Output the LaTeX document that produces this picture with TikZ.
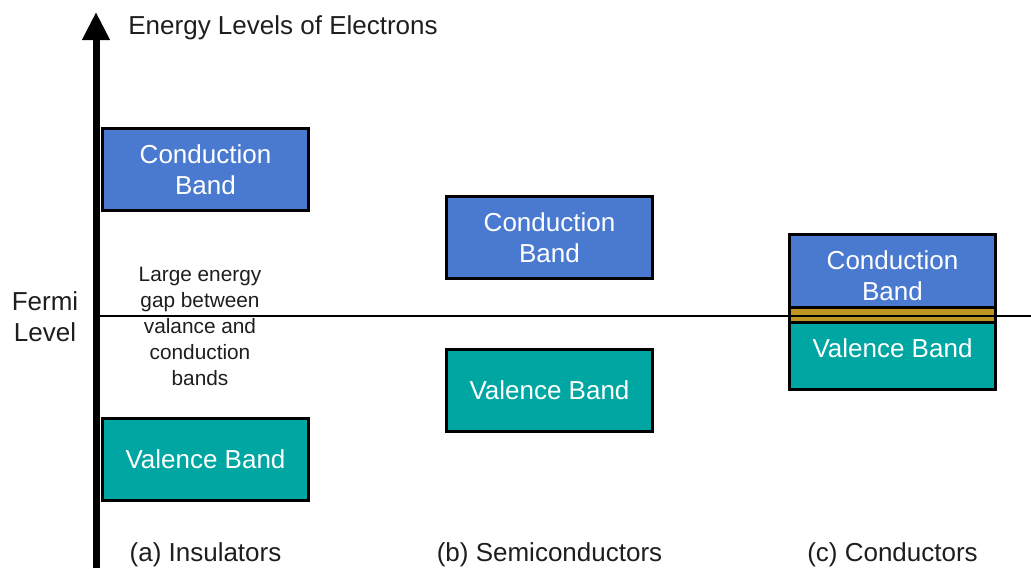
\documentclass[tikz,border=0pt]{standalone}
\usepackage{fontspec}
\setmainfont{Liberation Sans}
\usetikzlibrary{arrows.meta,positioning}
\definecolor{cbblue}{RGB}{74,122,208}
\definecolor{vbteal}{RGB}{0,166,162}
\definecolor{gapgold}{RGB}{191,148,32}
\definecolor{inkgray}{RGB}{30,30,30}
\tikzset{
	band/.style = {draw = black, line width = 1.5pt, minimum width = 103pt, minimum height = 41pt,
		inner sep = 0pt, align = center, text = white, font = \fontsize{13}{15.5}\selectfont},
	cband/.style = {band, fill = cbblue},
	vband/.style = {band, fill = vbteal},
	overlap/.style = {draw = black, line width = 1.5pt, fill = gapgold, minimum width = 103pt,
		minimum height = 7.5pt, inner sep = 0pt},
	caption/.style = {font = \fontsize{13}{15.5}\selectfont, align = center, inner sep = 0pt, text = inkgray},
	small caption/.style = {font = \fontsize{10.4}{13}\selectfont, align = center, inner sep = 0pt, text = inkgray},
	axis/.style = {line width = 3.5pt, -{Triangle[width = 13pt, length = 14pt]}},
	fermi/.style = {line width = 0.75pt}
}

\begin{document}
\begin{tikzpicture}[x = 0.5pt, y = -0.5pt]
			\useasboundingbox (0, 0) rectangle (1031, 568);

			% energy axis
			\coordinate (base) at (96, 568);
			\coordinate (top) at (96, 12);
			\draw [axis] (base) -- (top);
			\node [caption, anchor = west] (title) at (128, 28) {Energy Levels of Electrons};

			% insulators
			\node [cband] (cb1) at (205.5, 169.5) {Conduction\\Band};
			\node [vband] (vb1) at (205.5, 459.5) {Valence Band};
			\node [small caption] (gap) at (200, 326) {Large energy\\gap between\\valance and\\conduction\\bands};

			% semiconductors
			\node [cband] (cb2) at (549.5, 237.5) {Conduction\\Band};
			\node [vband] (vb2) at (549.5, 390.5) {Valence Band};

			% conductors
			\node [cband] (cb3) at (892.5, 275.5) {Conduction\\Band};
			\node [vband] (vb3) at (892.5, 348.5) {Valence Band};
			\node [overlap, anchor = north] (ov) at (vb3.north) {};

			\foreach\lbl/\i in {(a) Insulators/1, (b) Semiconductors/2, (c) Conductors/3}{
				\node [caption] (lbl\i) at (vb\i |- 0, 555) {\lbl};
			}

			% fermi level
			\node [caption] (fermi) at (45, 317) {Fermi\\Level};
			\coordinate (fermiend) at (1031, 316);
			\draw [fermi] (base |- fermiend) -- (fermiend);
		\end{tikzpicture}
\end{document}
